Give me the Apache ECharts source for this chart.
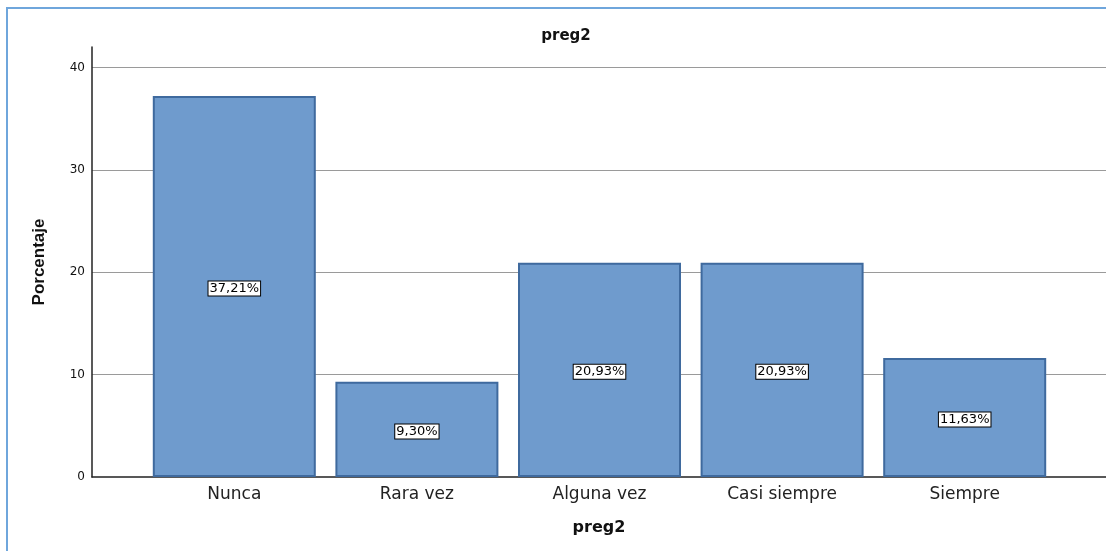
<!DOCTYPE html>
<html>
<head>
<meta charset="utf-8">
<script src="https://cdn.jsdelivr.net/npm/echarts@6/dist/echarts.min.js"></script>
<style>
html,body{margin:0;padding:0;background:#fff;}
#chart{width:1106px;height:551px;}
</style>
</head>
<body>
<div id="chart"></div>
<script>
const categories = ['Nunca', 'Rara vez', 'Alguna vez', 'Casi siempre', 'Siempre'];
const percentages = [37.21, 9.30, 20.93, 20.93, 11.63];
const yTicks = [0, 10, 20, 30, 40];
const chartTitle = 'preg2';
const xName = 'preg2';
const yName = 'Porcentaje';

const chart = echarts.init(document.getElementById('chart'));
const yMax = 42;
chart.setOption({
  animation: false,
  backgroundColor: '#ffffff',
  title: {
    text: chartTitle,
    left: 561, top: 24, textAlign: 'center',
    textStyle: { fontFamily: 'DejaVu Sans', fontWeight: 'bold', fontSize: 15, color: '#111' }
  },
  graphic: [{
    type: 'rect', silent: true,
    shape: { x: 7, y: 8, width: 1300, height: 700 },
    style: { fill: 'none', stroke: '#6fa6dc', lineWidth: 2 }
  }],
  grid: [
    { left: 92, right: 0, top: 47, bottom: 74 },
    { left: 143, right: 50, top: 47, bottom: 74 }
  ],
  xAxis: [
    {
      gridIndex: 0, type: 'value', min: 0, max: 1,
      axisLine: { show: true, lineStyle: { color: '#222', width: 1.5 } },
      axisTick: { show: false }, axisLabel: { show: false }, splitLine: { show: false },
      name: xName, nameLocation: 'middle', nameGap: 43,
      nameTextStyle: { fontFamily: 'DejaVu Sans', fontWeight: 'bold', fontSize: 16, color: '#111' }
    },
    {
      gridIndex: 1, type: 'category', data: categories,
      axisLine: { show: false }, axisTick: { show: false },
      axisLabel: { margin: 9, fontFamily: 'DejaVu Sans', fontSize: 17, color: '#222' }
    }
  ],
  yAxis: [
    {
      gridIndex: 0, type: 'value', min: yTicks[0], max: yMax, interval: 10,
      axisLine: { show: true, lineStyle: { color: '#222', width: 1.5 } },
      axisTick: { show: false },
      axisLabel: { showMaxLabel: false, margin: 7, fontFamily: 'DejaVu Sans', fontSize: 12, color: '#111',
        formatter: v => (yTicks.indexOf(v) >= 0 ? String(v) : '') },
      splitLine: { show: true, showMaxLine: false, showMinLine: false, lineStyle: { color: '#9a9a9a', width: 1 } },
      name: yName, nameLocation: 'middle', nameGap: 44,
      nameTextStyle: { fontFamily: 'Liberation Sans', fontWeight: 'bold', fontSize: 17, color: '#111' }
    },
    {
      gridIndex: 1, type: 'value', min: yTicks[0], max: yMax, show: false
    }
  ],
  series: [{
    type: 'bar', xAxisIndex: 1, yAxisIndex: 1,
    data: percentages,
    barWidth: 163,
    itemStyle: { color: '#6f9bcd', borderColor: '#3f6a9e', borderWidth: 2 },
    label: {
      show: true, position: 'inside', offset: [0, 2],
      formatter: p => p.value.toFixed(2).replace('.', ',') + '%',
      fontFamily: 'DejaVu Sans', fontSize: 13, color: '#000',
      backgroundColor: '#fff', borderColor: '#000', borderWidth: 1,
      padding: [1, 1, 0, 1]
    }
  }]
});
</script>
</body>
</html>
